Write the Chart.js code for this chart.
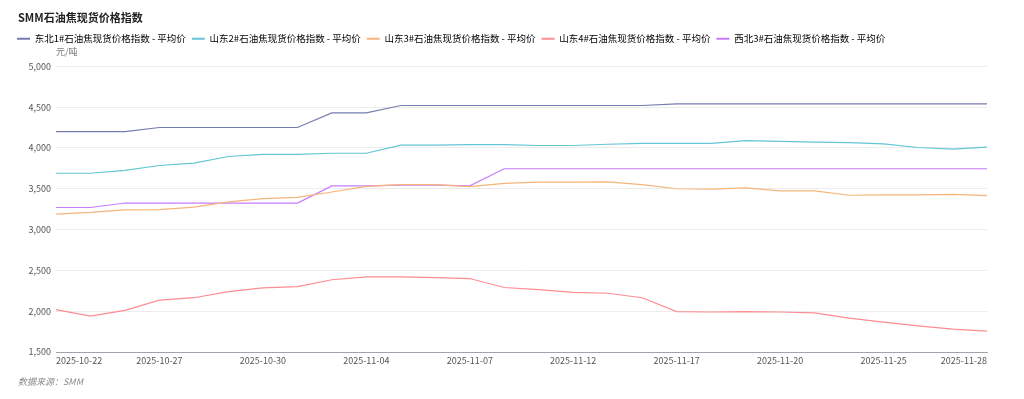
<!DOCTYPE html>
<html>
<head>
<meta charset="utf-8">
<script src="https://cdn.jsdelivr.net/npm/chart.js@4/dist/chart.umd.min.js"></script>
<style>
  html, body { margin: 0; padding: 0; background: #fff; }
  #wrap { position: relative; width: 1024px; height: 399px; }
</style>
</head>
<body>
<div id="wrap"><canvas id="priceChart"></canvas></div>
<script>
// Trading days on the x axis
const dates = [
    '2025-10-22', '2025-10-23', '2025-10-24', '2025-10-27', '2025-10-28', '2025-10-29', '2025-10-30',
    '2025-10-31', '2025-11-03', '2025-11-04', '2025-11-05', '2025-11-06', '2025-11-07', '2025-11-10',
    '2025-11-11', '2025-11-12', '2025-11-13', '2025-11-14', '2025-11-17', '2025-11-18', '2025-11-19',
    '2025-11-20', '2025-11-21', '2025-11-24', '2025-11-25', '2025-11-26', '2025-11-27', '2025-11-28'
];

// Average prices, yuan per tonne
const dongbei1 = [4200, 4200, 4200, 4250, 4250, 4250, 4250, 4250, 4430, 4430, 4520, 4520, 4520, 4520,
    4520, 4520, 4520, 4520, 4540, 4540, 4540, 4540, 4540, 4540, 4540, 4540, 4540, 4540];
const shandong2 = [3690, 3690, 3725, 3785, 3815, 3895, 3920, 3920, 3935, 3935, 4035, 4035, 4040, 4040,
    4030, 4030, 4045, 4055, 4055, 4055, 4090, 4080, 4070, 4065, 4050, 4005, 3985, 4010];
const shandong3 = [3190, 3210, 3240, 3245, 3275, 3340, 3380, 3395, 3460, 3530, 3550, 3550, 3525, 3565,
    3580, 3580, 3585, 3550, 3500, 3495, 3510, 3475, 3475, 3420, 3425, 3425, 3430, 3415];
const shandong4 = [2020, 1940, 2010, 2135, 2165, 2240, 2285, 2300, 2385, 2420, 2420, 2410, 2400, 2290,
    2265, 2230, 2220, 2165, 1995, 1990, 1995, 1990, 1980, 1915, 1865, 1820, 1780, 1755];
const xibei3 = [3270, 3270, 3325, 3325, 3325, 3325, 3325, 3325, 3535, 3535, 3545, 3545, 3535, 3745,
    3745, 3745, 3745, 3745, 3745, 3745, 3745, 3745, 3745, 3745, 3745, 3745, 3745, 3745];

const seriesNames = [
    '东北1#石油焦现货价格指数 - 平均价',
    '山东2#石油焦现货价格指数 - 平均价',
    '山东3#石油焦现货价格指数 - 平均价',
    '山东4#石油焦现货价格指数 - 平均价',
    '西北3#石油焦现货价格指数 - 平均价'
];
const seriesColors = ['#777cb0', '#63c5d5', '#f6b57a', '#ff8c92', '#c57cff'];
const yMin = 1500, yMax = 5000, yStep = 500;

const FONT = '"Noto Sans CJK SC", "Noto Sans", sans-serif';

function makeSet(i, values) {
    return {
        label: seriesNames[i],
        data: values,
        borderColor: seriesColors[i],
        backgroundColor: seriesColors[i],
        borderWidth: 1.2,
        pointRadius: 0,
        tension: 0,
        fill: false
    };
}

// Chart title top left and source note bottom left
const cornerTexts = {
    id: 'cornerTexts',
    afterDraw(chart) {
        const ctx = chart.ctx;
        ctx.save();
        ctx.textBaseline = 'middle';
        ctx.font = 'bold 11px ' + FONT;
        ctx.fillStyle = '#222';
        ctx.fillText('SMM石油焦现货价格指数', 18, 18);
        ctx.font = 'italic 9px ' + FONT;
        ctx.fillStyle = '#8a8a8a';
        ctx.fillText('数据来源：SMM', 18, 382);
        ctx.restore();
    }
};

const priceChart = new Chart(document.getElementById('priceChart').getContext('2d'), {
    type: 'line',
    data: {
        labels: dates,
        datasets: [
            makeSet(0, dongbei1),
            makeSet(1, shandong2),
            makeSet(2, shandong3),
            makeSet(3, shandong4),
            makeSet(4, xibei3)
        ]
    },
    options: {
        responsive: true,
        maintainAspectRatio: false,
        animation: false,
        locale: 'en-US',
        layout: { padding: { left: 11, right: 37, top: 28, bottom: 22 } },
        plugins: {
            title: { display: false },
            legend: {
                align: 'start',
                labels: {
                    color: '#444',
                    font: { family: FONT, size: 9.5 },
                    boxWidth: 13,
                    boxHeight: 2,
                    padding: 6,
                    generateLabels(chart) {
                        return chart.data.datasets.map((ds, i) => ({
                            text: ds.label,
                            fillStyle: ds.borderColor,
                            strokeStyle: ds.borderColor,
                            lineWidth: 0,
                            hidden: false,
                            datasetIndex: i
                        }));
                    }
                }
            },
            subtitle: {
                display: true,
                text: '元/吨',
                align: 'start',
                position: 'top',
                weight: 500,
                fullSize: false,
                color: '#777',
                font: { family: FONT, size: 9 },
                padding: { top: -7, bottom: 9 }
            },
            tooltip: { enabled: false }
        },
        scales: {
            x: {
                grid: { display: false, drawTicks: false },
                border: { display: true, color: '#a0a3ad', width: 1 },
                ticks: {
                    autoSkip: false,
                    maxRotation: 0,
                    align: 'inner',
                    padding: 3,
                    color: '#555',
                    font: { family: FONT, size: 9 },
                    callback: (v, i) => (i % 3 === 0 ? dates[i] : '')
                },
                afterFit(scale) { scale.height = 25; }
            },
            y: {
                min: yMin,
                max: yMax,
                grid: { color: '#ececec', drawTicks: false },
                border: { display: false },
                ticks: {
                    stepSize: yStep,
                    padding: 5,
                    color: '#555',
                    font: { family: FONT, size: 9 }
                },
                afterFit(scale) { scale.width = 45; }
            }
        }
    },
    plugins: [cornerTexts]
});
</script>
</body>
</html>
